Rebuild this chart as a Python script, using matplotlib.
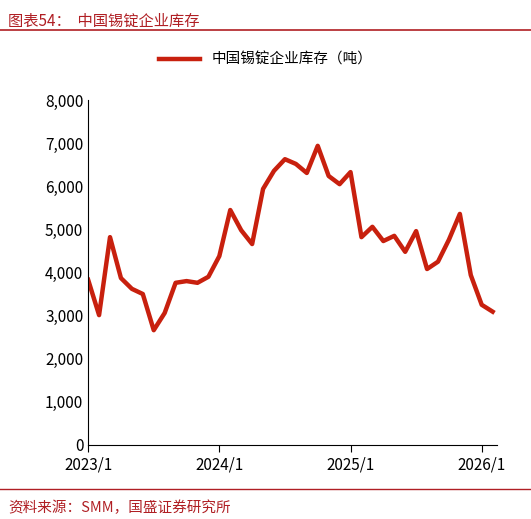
import matplotlib
matplotlib.use("Agg")
import matplotlib.pyplot as plt
from matplotlib.lines import Line2D

plt.rcParams['font.family'] = ['Noto Sans CJK SC', 'DejaVu Sans']

# monthly tin ingot enterprise inventory, 2023/1 .. 2026/2 (tonnes)
months = list(range(38))
inventory = [3830, 3010, 4820, 3870, 3620, 3500, 2660, 3060, 3760, 3800,
             3760, 3900, 4380, 5450, 4980, 4660, 5940, 6360, 6630, 6520,
             6310, 6940, 6240, 6050, 6330, 4820, 5060, 4730, 4850, 4480,
             4960, 4080, 4250, 4760, 5360, 3940, 3250, 3090]
tick_pos = [0, 12, 24, 36]
tick_labels = ["2023/1", "2024/1", "2025/1", "2026/1"]
yticks = [0, 1000, 2000, 3000, 4000, 5000, 6000, 7000, 8000]

RED = "#c8200e"
TITLE_RED = "#b01f24"

fig = plt.figure(figsize=(5.31, 5.19), dpi=100)
ax = fig.add_axes([0.166, 0.143, 0.770, 0.664])
ax.plot(months, inventory, color=RED, lw=3.2)
ax.set_xlim(0, 37.4)
ax.set_ylim(0, 8000)
ax.set_yticks(yticks)
ax.set_yticklabels([f"{v:,}" for v in yticks], fontsize=11)
ax.set_xticks(tick_pos)
ax.set_xticklabels(tick_labels, fontsize=11)
ax.tick_params(axis="y", length=0)
ax.tick_params(axis="x", direction="out", length=5)
for s in ("top", "right"):
    ax.spines[s].set_visible(False)

fig.legend(handles=[Line2D([0], [0], color=RED, lw=3.2)],
           labels=["中国锡锭企业库存（吨）"], loc="center",
           bbox_to_anchor=(0.5, 0.885), frameon=False, fontsize=10.5,
           handlelength=2.8)

fig.text(0.015, 0.975, "图表54：  中国锡锭企业库存", color=TITLE_RED,
         fontsize=11, style="italic", va="top")
fig.add_artist(Line2D([0.0, 1.0], [0.943, 0.943], color=TITLE_RED, lw=1.2))
fig.add_artist(Line2D([0.0, 1.0], [0.057, 0.057], color=TITLE_RED, lw=1.0))
fig.text(0.015, 0.022, "资料来源：SMM，国盛证券研究所", color=TITLE_RED,
         fontsize=10.5, style="italic", va="center")

fig.savefig("out.png", dpi=100)
